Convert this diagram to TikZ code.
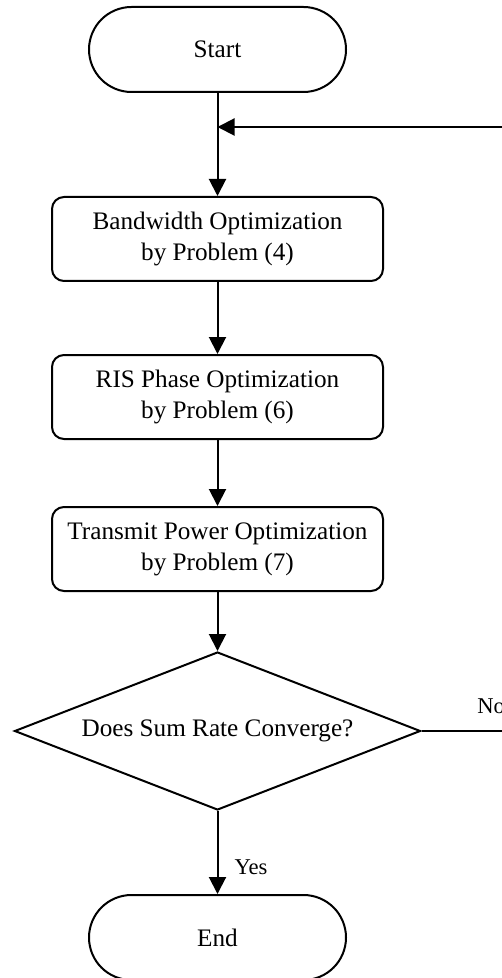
\documentclass[tikz,border=0pt]{standalone}
\usepackage{fontspec}
\setmainfont{Liberation Serif}
\usetikzlibrary{shapes.geometric,arrows.meta}
\begin{document}
\begin{tikzpicture}[x=0.5pt,y=-0.5pt,
  every node/.style={font=\fontsize{12.6}{15.5}\selectfont, text=black},
  term/.style={draw, line width=1pt, rounded corners=21.25pt, minimum width=128.5pt, minimum height=42.5pt, inner sep=0pt, fill=white},
  proc/.style={draw, line width=1pt, rounded corners=6pt, minimum width=165.5pt, minimum height=42pt, inner sep=0pt, align=center, fill=white},
  dec/.style={draw, line width=1pt, diamond, aspect=2.57, minimum width=203pt, minimum height=79pt, inner sep=0pt, fill=white},
  lbl/.style={font=\fontsize{11.3}{13}\selectfont, inner sep=0pt},
  conn/.style={line width=1pt, -{Triangle[length=8.5pt,width=8.5pt]}},
  plain/.style={line width=1pt}
]
\useasboundingbox (0,0) rectangle (502,978);
\clip (0,0) rectangle (502,978);
\node[term] (start) at (217.5,49.5) {Start};
\node[proc] (bw) at (217.5,239) {Bandwidth Optimization\\by Problem (4)};
\node[proc] (ris) at (217.5,397) {RIS Phase Optimization\\by Problem (6)};
\node[proc] (tp) at (217.5,549) {Transmit Power Optimization\\by Problem (7)};
\node[dec] (dec) at (217.5,731) {Does Sum Rate Converge?};
\node[term] (end) at (217.5,937.5) {End};
\coordinate (fb) at (217.5,127);
\coordinate (r1) at (540,731);
\coordinate (r2) at (540,127);
\draw[conn] (start) -- (bw);
\draw[conn] (bw) -- (ris);
\draw[conn] (ris) -- (tp);
\draw[conn] (tp) -- (dec);
\draw[conn] (dec) -- (end);
\draw[conn] (dec.east) -- (r1) -- (r2) -- (fb);
\node[lbl] (yes) at (251,867) {Yes};
\node[lbl, anchor=west] (no) at (477,706) {No};
\end{tikzpicture}
\end{document}
